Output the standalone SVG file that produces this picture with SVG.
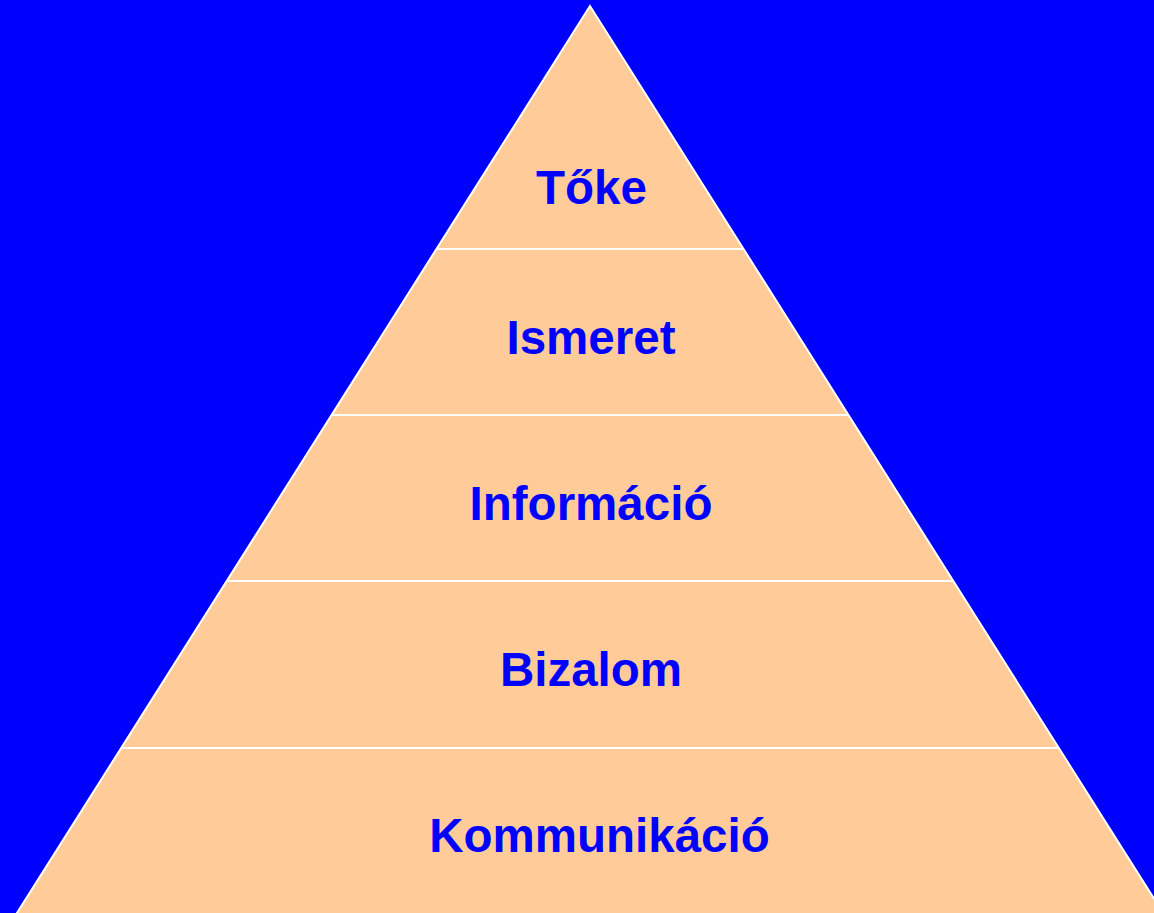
<svg xmlns="http://www.w3.org/2000/svg" width="1154" height="913" viewBox="0 0 1154 913">
<style>
.lbl{font-family:"Liberation Sans",Arial,sans-serif;font-weight:bold;font-size:47.5px;fill:#0000FF;text-anchor:middle}
.div{stroke:#FFFFFF;stroke-width:2}
</style>
<rect width="1154" height="913" fill="#0000FF"/>
<g id="pyramid">
<polygon points="590,6 10,924 1170,924" fill="#FFCC99" stroke="#FFFFFF" stroke-width="2" stroke-linejoin="miter"/>
</g>
<g id="connectors">
<line class="div" x1="436" y1="249" x2="744" y2="249"/>
<line class="div" x1="331" y1="415" x2="849" y2="415"/>
<line class="div" x1="226" y1="581" x2="954" y2="581"/>
<line class="div" x1="121" y1="748" x2="1059" y2="748"/>
</g>
<g id="toke"><text class="lbl" x="591.5" y="204">Tőke</text></g>
<g id="ismeret"><text class="lbl" x="591" y="354">Ismeret</text></g>
<g id="informacio"><text class="lbl" x="591" y="520">Információ</text></g>
<g id="bizalom"><text class="lbl" x="591" y="686">Bizalom</text></g>
<g id="kommunikacio"><text class="lbl" x="599.5" y="852">Kommunikáció</text></g>
</svg>
